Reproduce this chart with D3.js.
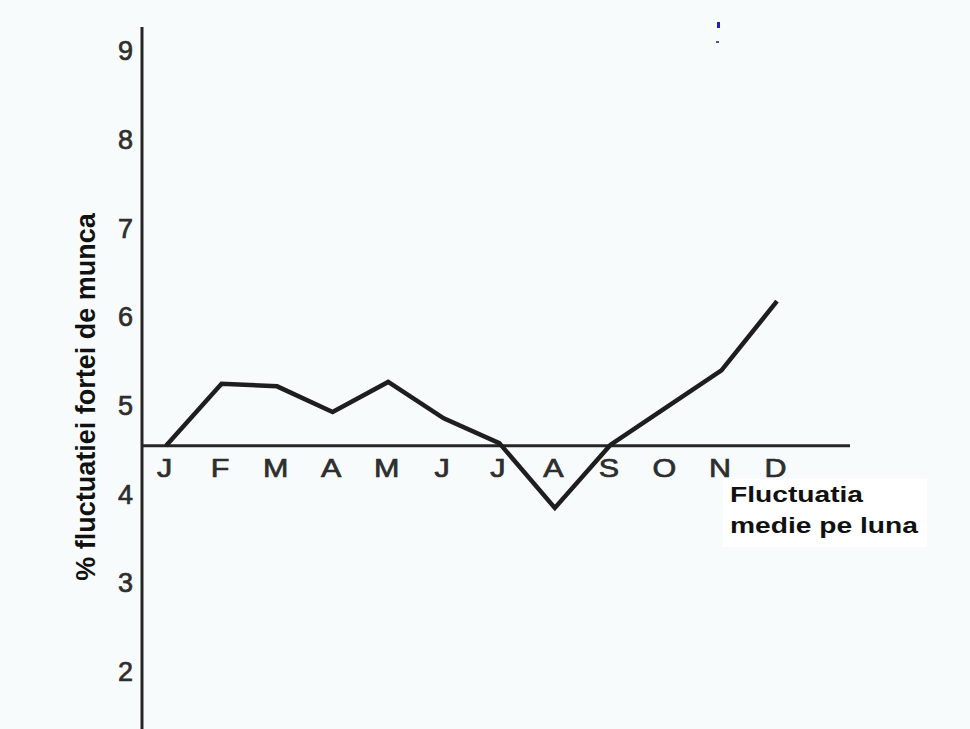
<!DOCTYPE html>
<html>
<head>
<meta charset="utf-8">
<script src="https://cdn.jsdelivr.net/npm/d3@7"></script>
<style>
  html, body { margin: 0; padding: 0; background: #f8fbfb; }
  svg { display: block; }
</style>
</head>
<body>
<script>
// ---- data ----
const months = ["J", "F", "M", "A", "M", "J", "J", "A", "S", "O", "N", "D"];
const values = [4.55, 5.25, 5.22, 4.93, 5.27, 4.86, 4.58, 3.85, 4.56, 4.98, 5.40, 6.18];
const meanValue = 4.55;
const yTicks = [2, 3, 4, 5, 6, 7, 8, 9];
const yTitle = "% fluctuatiei fortei de munca";
const meanLabel = ["Fluctuatia", "medie pe luna"];

const W = 970, H = 729;
const svg = d3.select("body").append("svg").attr("width", W).attr("height", H);

svg.append("rect").attr("width", W).attr("height", H).attr("fill", "#f8fbfb");

const y = d3.scaleLinear().domain([2, 9]).range([672, 51]);
const idx = d3.range(months.length);
const x = d3.scaleLinear().domain([0, 11]).range([166, 777]);
const axisX = 142;
const ink = "#262626";
const font = "Liberation Sans, Arial, sans-serif";

// y axis
const yAxis = svg.append("g").attr("transform", `translate(${axisX},0)`)
  .call(d3.axisLeft(y).tickValues(yTicks).tickSize(0).tickPadding(9).tickFormat(d3.format("d")));
yAxis.select(".domain").remove();
yAxis.selectAll("text")
  .attr("font-family", font)
  .attr("font-size", 27).attr("fill", "#2e2e2e")
  .attr("stroke", "#2e2e2e").attr("stroke-width", 0.7);
svg.append("line").attr("x1", axisX).attr("x2", axisX)
  .attr("y1", y(9.27)).attr("y2", H)
  .attr("stroke", ink).attr("stroke-width", 3);

// mean line (acts as x axis)
const y0 = y(meanValue);
svg.append("line").attr("x1", axisX).attr("x2", 850)
  .attr("y1", y0).attr("y2", y0)
  .attr("stroke", ink).attr("stroke-width", 3);

// month labels via axis
const xAxis = svg.append("g").attr("transform", `translate(0,${y0})`)
  .call(d3.axisBottom(x).tickValues(idx).tickSize(0).tickPadding(0)
    .tickFormat(i => months[i]));
xAxis.select(".domain").remove();
xAxis.selectAll(".tick text")
  .attr("font-family", font)
  .attr("font-size", 25).attr("fill", "#2e2e2e")
  .attr("stroke", "#2e2e2e").attr("stroke-width", 0.7)
  .attr("y", 0).attr("dy", 0)
  .attr("transform", "translate(-2,31) scale(1.22,1)");

// data line
svg.append("path")
  .datum(values)
  .attr("d", d3.line().x((d, i) => x(i)).y(d => y(d)))
  .attr("fill", "none").attr("stroke", "#1e1e1e")
  .attr("stroke-width", 4.5).attr("stroke-linejoin", "miter");

// y title
svg.append("text")
  .attr("transform", `translate(95,397) rotate(-90)`)
  .attr("text-anchor", "middle")
  .attr("font-family", font)
  .attr("font-weight", "bold").attr("font-size", 27)
  .attr("fill", "#111")
  .text(yTitle);

// mean label box
svg.append("rect").attr("x", 723).attr("y", 479).attr("width", 204).attr("height", 68)
  .attr("fill", "#ffffff");
const lbl = svg.append("text")
  .attr("font-family", font)
  .attr("font-weight", "bold").attr("font-size", 22).attr("fill", "#111");
lbl.append("tspan").attr("x", 730).attr("y", 502)
  .attr("textLength", 133).attr("lengthAdjust", "spacingAndGlyphs").text(meanLabel[0]);
lbl.append("tspan").attr("x", 730).attr("y", 533)
  .attr("textLength", 188).attr("lengthAdjust", "spacingAndGlyphs").text(meanLabel[1]);

// scan specks
svg.append("rect").attr("x", 717).attr("y", 22).attr("width", 3).attr("height", 6).attr("fill", "#2020c0");
svg.append("rect").attr("x", 716).attr("y", 41).attr("width", 3).attr("height", 2).attr("fill", "#5050a0");
</script>
</body>
</html>
